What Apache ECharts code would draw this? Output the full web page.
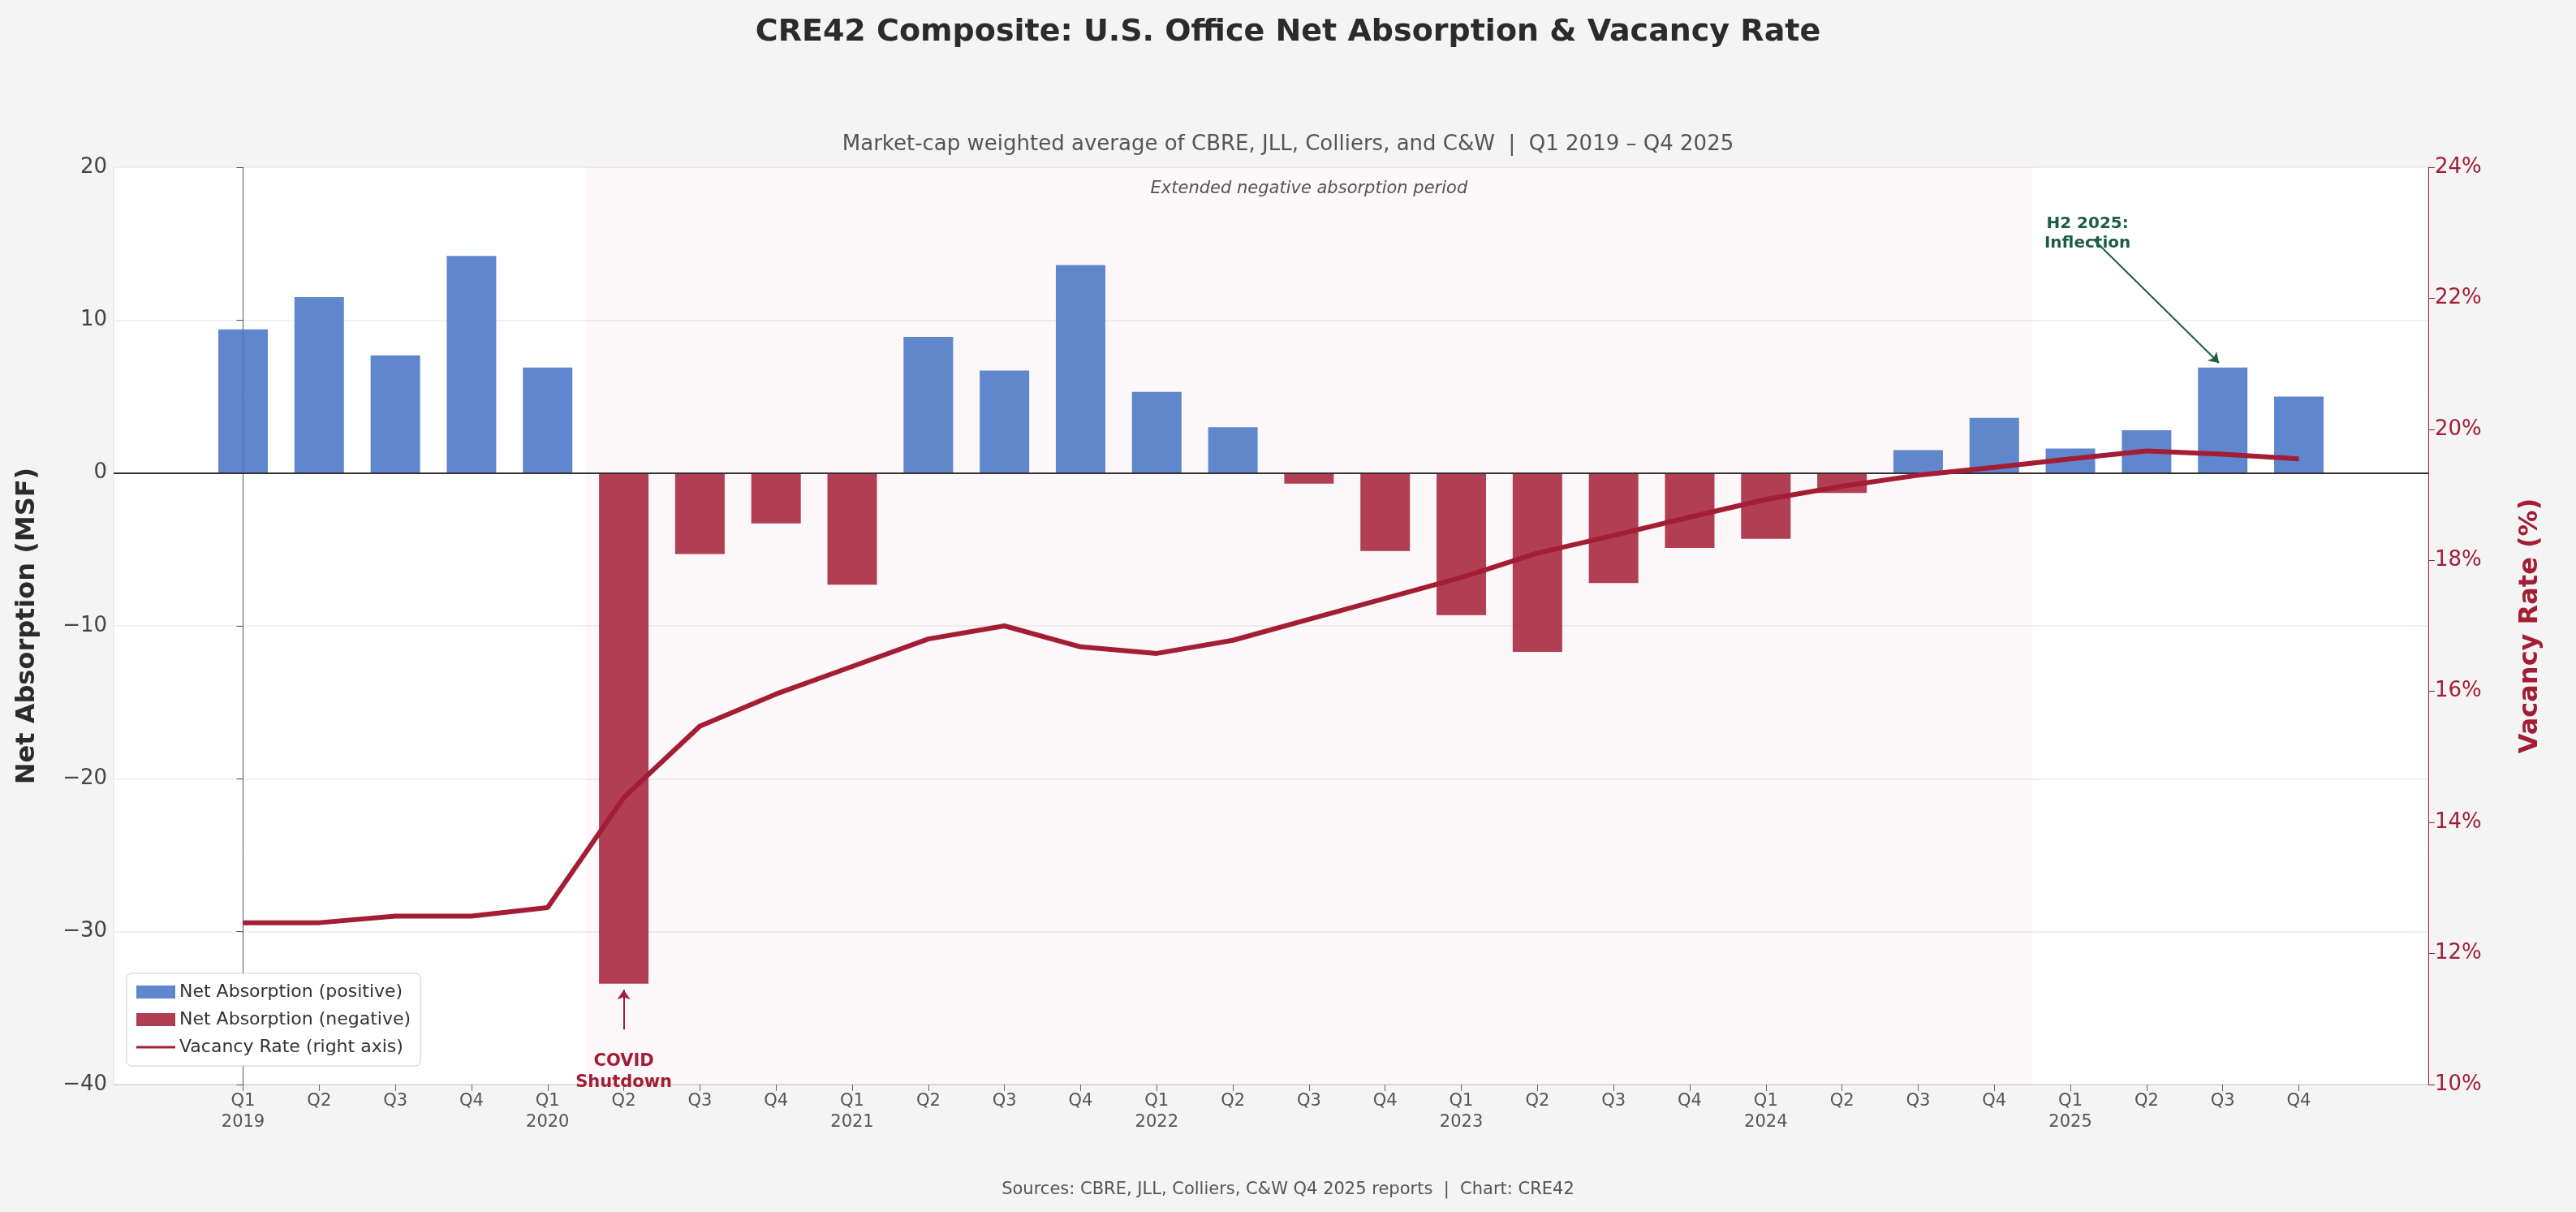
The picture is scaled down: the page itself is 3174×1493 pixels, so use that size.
<!doctype html>
<html>
<head>
<meta charset="utf-8">
<title>CRE42 Composite</title>
<script src="https://cdn.jsdelivr.net/npm/echarts@6/dist/echarts.min.js"></script>
<style>
  html, body { margin: 0; padding: 0; background: #f4f4f4; }
  #chart { width: 3174px; height: 1493px; }
</style>
</head>
<body>
<div id="chart"></div>
<script>
var quarterLabels = ['Q1\n2019','Q2','Q3','Q4','Q1\n2020','Q2','Q3','Q4','Q1\n2021','Q2','Q3','Q4',
  'Q1\n2022','Q2','Q3','Q4','Q1\n2023','Q2','Q3','Q4','Q1\n2024','Q2','Q3','Q4','Q1\n2025','Q2','Q3','Q4'];
var absorption = [9.4, 11.5, 7.7, 14.2, 6.9, -33.4, -5.3, -3.3, -7.3, 8.9, 6.7, 13.6,
  5.3, 3.0, -0.7, -5.1, -9.3, -11.7, -7.2, -4.9, -4.3, -1.3, 1.5, 3.6, 1.6, 2.8, 6.9, 5.0];
var vacancy = [12.47, 12.47, 12.57, 12.57, 12.7, 14.38, 15.47, 15.96, 16.38, 16.8, 17.0, 16.68,
  16.58, 16.78, 17.1, 17.42, 17.74, 18.11, 18.38, 18.66, 18.93, 19.13, 19.3, 19.42, 19.55, 19.67, 19.62, 19.55];

var BLUE = 'rgba(68,114,196,0.85)';
var RED = '#a31d35';
var REDBAR = 'rgba(163,29,53,0.85)';
var idx = quarterLabels.map(function (_, i) { return i; });

var posData = [], negData = [];
absorption.forEach(function (v, i) {
  posData.push(v >= 0 ? [i, v] : [i, null]);
  negData.push(v < 0 ? [i, v] : [i, null]);
});

var chart = echarts.init(document.getElementById('chart'));
chart.setOption({
  backgroundColor: '#f4f4f4',
  animation: false,
  textStyle: { fontFamily: 'DejaVu Sans' },
  title: [
    { text: 'CRE42 Composite: U.S. Office Net Absorption & Vacancy Rate', left: 'center', top: 16,
      textStyle: { fontSize: 38, fontWeight: 'bold', color: '#2b2b2b' } },
    { text: 'Market-cap weighted average of CBRE, JLL, Colliers, and C&W  |  Q1 2019 – Q4 2025', left: 'center', top: 160,
      textStyle: { fontSize: 26, fontWeight: 'normal', color: '#555' } },
    { text: 'Sources: CBRE, JLL, Colliers, C&W Q4 2025 reports  |  Chart: CRE42', left: 'center', top: 1450,
      textStyle: { fontSize: 21, fontWeight: 'normal', color: '#555' } }
  ],
  grid: { left: 140, right: 182, top: 206, bottom: 157, show: true, backgroundColor: '#fff', borderColor: '#ddd', borderWidth: 1 },
  legend: {
    orient: 'vertical', left: 156, bottom: 180, itemWidth: 48, itemHeight: 16, itemGap: 12,
    backgroundColor: '#fff', borderColor: '#ccc', borderWidth: 1, borderRadius: 6, padding: [12, 12],
    textStyle: { fontSize: 22, color: '#333' },
    data: [
      { name: 'Net Absorption (positive)', icon: 'rect' },
      { name: 'Net Absorption (negative)', icon: 'rect' },
      { name: 'Vacancy Rate (right axis)', icon: 'path://M0,7 L48,7 L48,10 L0,10 Z' }
    ]
  },
  xAxis: {
    type: 'value', min: -1.7, max: 28.7,
    splitLine: { show: false },
    axisLine: { onZero: false, lineStyle: { color: '#ccc' } },
    axisTick: { customValues: idx, length: 8, lineStyle: { color: '#666' } },
    axisLabel: { customValues: idx, fontSize: 21, color: '#555', lineHeight: 26,
      formatter: function (v) { return quarterLabels[Math.round(v)]; } }
  },
  yAxis: [
    { type: 'value', min: -40, max: 20, interval: 10, name: 'Net Absorption (MSF)', nameLocation: 'middle', nameGap: 90,
      nameTextStyle: { fontSize: 32, fontWeight: 'bold', color: '#2b2b2b' },
      axisLine: { show: true, lineStyle: { color: '#555' } }, axisTick: { show: true, length: 8 },
      axisLabel: { fontSize: 26, color: '#444', formatter: function (v) { return v < 0 ? '\u2212' + (-v) : v; } },
      splitLine: { lineStyle: { color: '#ececec', width: 1.5 } } },
    { type: 'value', min: 10, max: 24, interval: 2, name: 'Vacancy Rate (%)', nameLocation: 'middle', nameGap: 110,
      nameTextStyle: { fontSize: 32, fontWeight: 'bold', color: RED },
      axisLine: { show: true, lineStyle: { color: RED } }, axisTick: { show: true, length: 8 },
      axisLabel: { fontSize: 26, color: RED, formatter: '{value}%' },
      splitLine: { show: false } }
  ],
  series: [
    { name: 'Net Absorption (positive)', type: 'bar', data: posData, barWidth: 61, stack: 'a',
      itemStyle: { color: BLUE },
      markArea: { silent: true, itemStyle: { color: 'rgba(160,30,60,0.035)' },
        label: { show: true, position: 'insideTop', distance: 16, fontSize: 21, fontStyle: 'italic', color: '#555' },
        data: [[{ xAxis: 4.5, yAxis: 20, name: 'Extended negative absorption period' }, { xAxis: 23.5, yAxis: -40 }]] },
      markLine: { silent: true, symbol: 'none', lineStyle: { color: '#333', width: 1.8, type: 'solid' }, label: { show: false },
        data: [{ yAxis: 0 }] } },
    { name: 'Net Absorption (negative)', type: 'bar', data: negData, barWidth: 61, stack: 'a',
      itemStyle: { color: REDBAR },
      markLine: { silent: true, symbol: ['none', 'arrow'], symbolSize: 12,
        data: [
          [{ coord: [5, -36.4], lineStyle: { color: RED, width: 2, type: 'solid' },
             label: { show: true, position: 'start', formatter: 'COVID\nShutdown', color: RED, fontSize: 21, fontWeight: 'bold', lineHeight: 26, distance: 26 } },
           { coord: [5, -33.8] }],
          [{ coord: [24.3, 15.3], lineStyle: { color: '#1f5c45', width: 2, type: 'solid' },
             label: { show: true, position: 'start', formatter: 'H2 2025:\nInflection', color: '#1f5c45', fontSize: 20, fontWeight: 'bold', lineHeight: 24, distance: 10 } },
           { coord: [25.95, 7.2] }]
        ] } },
    { name: 'Vacancy Rate (right axis)', type: 'line', yAxisIndex: 1, showSymbol: false,
      data: vacancy.map(function (v, i) { return [i, v]; }),
      lineStyle: { color: RED, width: 6 }, itemStyle: { color: RED }, z: 5 }
  ]
});
</script>
</body>
</html>
